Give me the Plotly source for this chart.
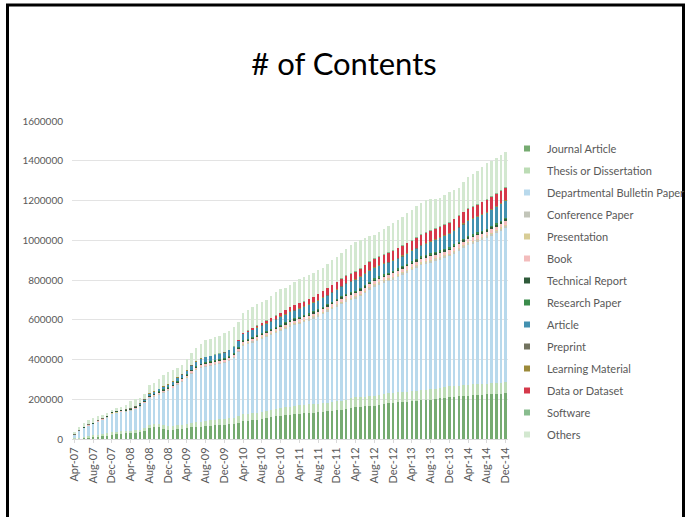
import plotly.graph_objects as go

# ---- data (values in thousands of items), monthly Apr-07 .. Dec-14 ----
MONTHS = ["Jan", "Feb", "Mar", "Apr", "May", "Jun", "Jul", "Aug", "Sep", "Oct", "Nov", "Dec"]
categories = [f"{m}-{y:02d}" for y in range(7, 15) for m in MONTHS][3:]

journal_article = [3,4,6,9,12,14,16,20,25,27,28,29,
                   30,31,33,40,55,58,60,50,45,46,48,50,
                   55,58,60,62,65,66,68,70,72,74,76,82,
                   92,93,94,95,100,105,110,114,118,120,123,126,
                   128,130,132,133,135,137,139,142,145,147,152,158,
                   162,163,165,166,168,171,175,179,182,184,186,188,
                   190,192,194,196,198,201,205,208,212,213,215,216,
                   218,220,221,223,224,225,226,228,229]
thesis = [2,3,4,5,6,7,7,8,8,9,10,11,
          12,13,14,15,16,17,18,19,20,21,22,22,
          23,24,25,26,27,28,29,29,30,30,31,32,
          33,34,35,36,37,37,38,38,39,39,40,40,
          41,41,42,42,43,43,44,44,45,45,46,46,
          47,47,48,48,49,49,50,50,50,51,51,51,
          52,52,52,52,53,53,53,53,54,54,54,54,
          54,55,55,55,55,55,55,56,56]
departmental_bulletin = [18,35,48,55,58,68,75,82,96,98,100,100,
                         102,108,117,127,137,141,148,167,180,190,205,219,
                         230,249,263,271,274,276,278,280,282,289,301,324,
                         345,352,359,366,370,373,376,382,387,397,405,409,
                         413,419,424,433,440,450,459,469,478,489,496,497,
                         498,511,522,538,551,557,562,567,573,581,591,601,
                         609,619,630,635,639,643,646,651,653,666,678,691,
                         704,708,715,722,731,743,754,765,777]
conference_paper = [0.5,0.6,0.8,1.0,1.1,1.2,1.3,1.4,1.5,1.6,1.7,1.8,
                    1.9,2.0,2.1,2.3,2.5,2.6,2.8,3.0,3.1,3.2,3.3,3.4,
                    3.5,3.6,3.8,4.0,4.1,4.2,4.3,4.4,4.5,4.6,4.8,5.0,
                    5.2,5.3,5.4,5.5,5.6,5.7,5.8,5.9,6.0,6.1,6.2,6.3,
                    6.4,6.5,6.6,6.8,7.0,7.1,7.2,7.3,7.4,7.5,7.6,7.7,
                    7.8,7.9,8.0,8.1,8.2,8.3,8.4,8.5,8.6,8.8,9.0,9.1,
                    9.2,9.3,9.4,9.5,9.6,9.8,10.0,10.1,10.2,10.4,10.6,10.8,
                    11.0,11.1,11.2,11.3,11.4,11.5,11.7,11.9,12.0]
presentation = [0.1,0.1,0.2,0.2,0.2,0.3,0.3,0.3,0.4,0.4,0.4,0.5,
                0.5,0.5,0.6,0.6,0.7,0.7,0.8,0.8,0.9,0.9,1.0,1.0,
                1.1,1.1,1.2,1.2,1.3,1.3,1.4,1.4,1.5,1.5,1.6,1.6,
                1.7,1.7,1.8,1.8,1.9,1.9,2.0,2.0,2.1,2.1,2.2,2.2,
                2.3,2.3,2.4,2.4,2.5,2.5,2.6,2.6,2.7,2.7,2.8,2.8,
                2.9,2.9,3.0,3.0,3.0,3.1,3.1,3.1,3.2,3.2,3.2,3.3,
                3.3,3.3,3.4,3.4,3.4,3.5,3.5,3.5,3.6,3.6,3.6,3.7,
                3.7,3.7,3.8,3.8,3.8,3.9,3.9,4.0,4.0]
book = [0.5,0.7,1.0,1.3,1.5,1.8,2.0,2.2,2.5,2.7,3.0,3.2,
        3.5,3.8,4.0,4.3,4.6,5.0,5.3,5.6,6.0,6.3,6.6,7.0,
        7.3,7.6,8.0,8.3,8.6,9.0,9.3,9.6,10.0,10.3,10.6,11.0,
        11.3,11.6,12.0,12.3,12.6,13.0,13.3,13.6,14.0,14.3,14.6,15.0,
        15.2,15.4,15.6,15.8,16.0,16.2,16.4,16.6,16.8,17.0,17.2,17.4,
        17.6,17.8,18.0,18.1,18.2,18.3,18.4,18.5,18.6,18.7,18.8,18.9,
        19.0,19.1,19.2,19.3,19.4,19.5,19.6,19.7,19.8,19.9,20.0,20.1,
        20.2,20.3,20.4,20.5,20.6,20.7,20.8,20.9,21.0]
technical_report = [1.0,1.5,2.0,2.3,2.5,2.7,2.8,3.0,3.1,3.2,3.3,3.4,
                    3.5,3.6,3.7,3.8,3.9,4.0,4.1,4.2,4.3,4.4,4.5,4.6,
                    4.7,4.8,4.9,5.0,5.0,5.1,5.1,5.2,5.2,5.3,5.3,5.4,
                    5.4,5.5,5.5,5.6,5.6,5.7,5.7,5.8,5.8,5.9,5.9,6.0,
                    6.0,6.1,6.1,6.2,6.2,6.3,6.3,6.4,6.4,6.5,6.5,6.6,
                    6.6,6.7,6.7,6.8,6.8,6.9,6.9,7.0,7.0,7.1,7.1,7.2,
                    7.2,7.3,7.3,7.4,7.4,7.5,7.5,7.6,7.6,7.7,7.7,7.8,
                    7.8,7.8,7.9,7.9,8.0,8.0,8.0,8.1,8.1]
research_paper = [0,0,0,0,0,0,0,0,0.1,0.1,0.1,0.2,
                  0.2,0.3,0.3,0.4,0.5,0.5,0.6,0.7,0.8,0.9,1.0,1.1,
                  1.2,1.3,1.4,1.5,1.6,1.7,1.8,1.9,2.0,2.1,2.2,2.3,
                  2.4,2.5,2.6,2.7,2.8,2.9,3.0,3.0,3.1,3.1,3.2,3.2,
                  3.3,3.3,3.4,3.4,3.5,3.5,3.6,3.6,3.7,3.7,3.8,3.8,
                  3.9,3.9,4.0,4.0,4.1,4.1,4.2,4.2,4.3,4.3,4.4,4.4,
                  4.5,4.5,4.5,4.6,4.6,4.6,4.7,4.7,4.7,4.8,4.8,4.8,
                  4.9,4.9,4.9,5.0,5.0,5.0,5.1,5.1,5.2]
article = [0,0,0,0,0,0,0,0,0,0,0,0,
           0,2,4,6,8,10,12,14,15,16,17,18,
           20,22,24,25,26,27,28,29,30,31,32,33,
           34,35,36,37,38,38,39,39,40,40,41,41,
           42,42,43,43,44,45,46,47,48,50,52,54,
           56,56,56,55,55,54,53,52,52,51,50,51,
           52,53,55,57,59,61,63,65,67,69,71,73,
           75,77,79,80,81,82,84,85,86]
preprint = [0.3,0.3,0.4,0.4,0.4,0.5,0.5,0.5,0.6,0.6,0.6,0.7,
            0.7,0.7,0.7,0.8,0.8,0.8,0.8,0.9,0.9,0.9,0.9,1.0,
            1.0,1.0,1.0,1.0,1.1,1.1,1.1,1.1,1.2,1.2,1.2,1.2,
            1.3,1.3,1.3,1.3,1.3,1.4,1.4,1.4,1.4,1.4,1.5,1.5,
            1.5,1.5,1.5,1.5,1.6,1.6,1.6,1.6,1.6,1.6,1.7,1.7,
            1.7,1.7,1.7,1.7,1.7,1.8,1.8,1.8,1.8,1.8,1.8,1.8,
            1.9,1.9,1.9,1.9,1.9,1.9,1.9,1.9,2.0,2.0,2.0,2.0,
            2.0,2.0,2.0,2.0,2.1,2.1,2.1,2.1,2.1]
learning_material = [0,0,0,0,0,0,0,0,0,0,0,0,
                     0,0,0,0,0.1,0.1,0.1,0.1,0.1,0.2,0.2,0.2,
                     0.2,0.2,0.3,0.3,0.3,0.3,0.4,0.4,0.4,0.4,0.5,0.5,
                     0.5,0.5,0.6,0.6,0.6,0.6,0.7,0.7,0.7,0.7,0.8,0.8,
                     0.8,0.8,0.9,0.9,0.9,0.9,1.0,1.0,1.0,1.0,1.0,1.1,
                     1.1,1.1,1.1,1.1,1.2,1.2,1.2,1.2,1.2,1.3,1.3,1.3,
                     1.3,1.3,1.3,1.4,1.4,1.4,1.4,1.4,1.4,1.5,1.5,1.5,
                     1.5,1.5,1.5,1.5,1.6,1.6,1.6,1.6,1.6]
data_or_dataset = [0,0,0,0,0,0,0,0,0,0,0,0,
                   0,0,0,0,0,0,0,0,0,0,0,0,
                   0,0,0,0,0,0,0,0,0,0,1,2,
                   3,4,6,8,10,12,14,16,18,20,22,24,
                   25,26,27,28,30,32,34,35,36,37,38,39,
                   40,41,42,43,44,45,46,47,48,49,50,50,
                   51,52,52,53,53,54,54,55,55,56,57,58,
                   58,59,60,61,61,62,63,64,65]
software = [0,0,0,0,0,0,0,0,0,0,0,0,
            0,0,0,0,0,0,0,0,0,0,0,0,
            0,0,0,0,0,0,0.1,0.1,0.1,0.2,0.2,0.2,
            0.2,0.3,0.3,0.3,0.3,0.3,0.4,0.4,0.4,0.4,0.4,0.4,
            0.5,0.5,0.5,0.5,0.5,0.5,0.6,0.6,0.6,0.6,0.6,0.6,
            0.7,0.7,0.7,0.7,0.7,0.7,0.7,0.8,0.8,0.8,0.8,0.8,
            0.8,0.8,0.9,0.9,0.9,0.9,0.9,0.9,0.9,0.9,0.9,1.0,
            1.0,1.0,1.0,1.0,1.0,1.0,1.0,1.0,1.0]
others = [12,13,16,21,25,20,16,12,8,12,15,21,
          37,34,29,28,42,40,48,55,62,55,50,47,
          58,58,63,72,83,85,86,88,92,95,94,90,
          100,103,105,106,105,105,109,118,117,110,110,115,
          120,120,120,117,120,117,120,124,126,127,130,140,
          147,142,137,127,117,120,125,130,136,140,144,148,
          152,155,155,160,155,148,143,145,150,142,137,148,
          158,162,168,173,183,180,177,177,174]

series_names = ["Journal Article", "Thesis or Dissertation", "Departmental Bulletin Paper",
                "Conference Paper", "Presentation", "Book", "Technical Report",
                "Research Paper", "Article", "Preprint", "Learning Material",
                "Data or Dataset", "Software", "Others"]
series_values = [journal_article, thesis, departmental_bulletin, conference_paper,
                 presentation, book, technical_report, research_paper, article,
                 preprint, learning_material, data_or_dataset, software, others]
series_colors = ["#76ab71", "#bcdcb5", "#b8d9ec", "#c2c5b9", "#d8cd96", "#f3bcbc",
                 "#2f5a3a", "#3b8c4b", "#4391b0", "#72735f", "#9c8a3a", "#d5394a",
                 "#88bc8e", "#d3e8d0"]

tick_labels = categories[::4]

# ---- figure ----
W, H = 689, 517
L, R, T, B = 72, 181, 121, 78
pw, ph = W - L - R, H - T - B


def px_x(px):
    return (px - L) / pw


def px_y(py):
    return (H - B - py) / ph


FONT = "Lato, 'Open Sans', sans-serif"
GRAY = "#595959"

fig = go.Figure()
for name, vals, col in zip(series_names, series_values, series_colors):
    fig.add_trace(go.Bar(
        x=categories, y=[v * 1000 for v in vals], name=name,
        marker=dict(color=col, line=dict(width=0)),
        legendgroup=name, showlegend=False,
    ))
    # legend entry with a small square swatch
    fig.add_trace(go.Scatter(
        x=[None], y=[None], mode="markers", name=name, legendgroup=name,
        marker=dict(symbol="square", size=6, color=col), showlegend=True,
    ))

fig.update_layout(
    width=W, height=H,
    margin=dict(l=L, r=R, t=T, b=B, autoexpand=False),
    paper_bgcolor="white", plot_bgcolor="white",
    barmode="stack", bargap=0.48,
    title=dict(text="# of Contents", x=px_x(344), xref="paper", xanchor="center",
               y=1 - 64 / H, yref="container", yanchor="middle",
               font=dict(family="Lato, 'Open Sans', sans-serif", size=31, color="#000000")),
    xaxis=dict(type="category", tickmode="array", tickvals=tick_labels, ticktext=tick_labels,
               tickangle=-90, tickfont=dict(family=FONT, size=11, color=GRAY),
               showgrid=False, showline=False, ticks="outside", ticklen=3,
               tickcolor="#d9d9d9", range=[-0.5, len(categories) - 0.5]),
    yaxis=dict(range=[0, 1600000], tickmode="array",
               tickvals=[0, 200000, 400000, 600000, 800000, 1000000, 1200000, 1400000, 1600000],
               ticktext=["0", "200000", "400000", "600000", "800000", "1000000", "1200000",
                         "1400000", "1600000"],
               tickfont=dict(family=FONT, size=10, color=GRAY),
               showgrid=True, gridcolor="#e3e3e3", gridwidth=1,
               zeroline=True, zerolinecolor="#d9d9d9", zerolinewidth=1,
               showline=False, ticks="", ticklabelstandoff=8),
    legend=dict(x=px_x(507), y=px_y(134), xanchor="left", yanchor="top",
                font=dict(family=FONT, size=11, color=GRAY),
                tracegroupgap=3, itemclick="toggle", bgcolor="rgba(0,0,0,0)",
                traceorder="grouped"),
    showlegend=True,
    shapes=[dict(type="path", xref="paper", yref="paper",
                 path=f"M {px_x(7.5)},{px_y(530)} L {px_x(7.5)},{px_y(5)} "
                      f"L {px_x(683.5)},{px_y(5)} L {px_x(683.5)},{px_y(530)}",
                 line=dict(color="black", width=3), layer="above")],
)

fig.write_html("out.html", config={"displayModeBar": False},
               post_script="document.body.style.margin='0';document.body.style.overflow='hidden';")
